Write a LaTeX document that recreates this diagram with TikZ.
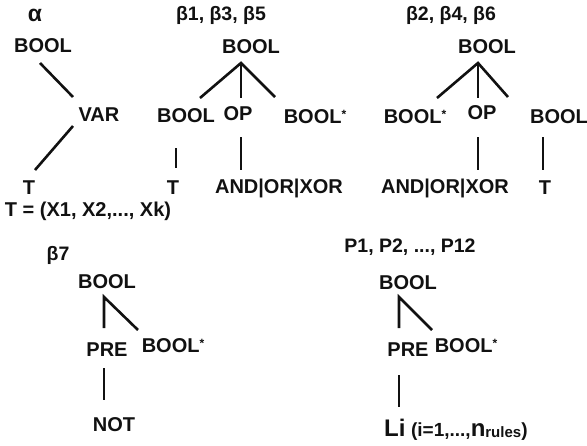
\documentclass[tikz,border=0pt]{standalone}
\usepackage{fontspec}
\setmainfont{Liberation Sans}
\usetikzlibrary{calc}
\definecolor{ink}{HTML}{111111}
\newcommand{\mainsz}{\fontsize{20}{22}\selectfont\bfseries}
\newcommand{\headsz}{\fontsize{19.5}{21}\selectfont\bfseries}
\newcommand{\rep}{\raisebox{5pt}{\fontsize{12}{12}\selectfont *}}

\begin{document}
\begin{tikzpicture}[
  x=1pt, y=-1pt,
  word/.style={inner sep=0pt, text=ink, font=\mainsz},
  head/.style={inner sep=0pt, text=ink, font=\headsz},
  edge/.style={draw=ink, line width=2.6pt}
]
\useasboundingbox (0,0) rectangle (587,445);

%% ---------- alpha ----------
\node[head, font=\fontsize{23}{25}\selectfont\bfseries] (alab) at (35,15) {α};
\node[word] (abool) at (43,46) {BOOL};
\node[word] (avar) at (99,115) {VAR};
\node[word] (aT) at (29,188) {T};
\node[word] (aset) at (88,211) {T = (X1, X2,..., Xk)};

\draw[edge] ($(abool)+(-3,17)$) -- ($(avar)+(-26,-18)$);
\draw[edge] ($(avar)+(-26,11)$) -- ($(aT)+(6,-18)$);

%% ---------- beta 1,3,5 ----------
\node[head] (blab) at (221,15) {β1, β3, β5};
\node[word] (broot) at (251,47) {BOOL};
\node[word] (bl) at (186,116) {BOOL};
\node[word] (bop) at (238,114) {OP};
\node[word] (br) at (315,117) {BOOL\rep};
\node[word] (bT) at (173,188) {T};
\node[word] (bops) at (279,188) {AND|OR|XOR};

\draw[edge] ($(bl)+(14,-18)$) -- ($(broot)+(-10,16)$) -- ($(br)+(-40,-20)$);
\draw[edge] ($(broot)+(-10,16)$) -- ($(bop)+(3,-16)$);
\draw[edge] ($(bl)+(-10,32)$) -- ($(bT)+(3,-20)$);
\draw[edge] ($(bop)+(3,23)$) -- ($(bops)+(-38,-18)$);

%% ---------- beta 2,4,6 ----------
\node[head] (clab) at (451,15) {β2, β4, β6};
\node[word] (croot) at (487,47) {BOOL};
\node[word] (cl) at (415,117) {BOOL\rep};
\node[word] (cop) at (482,113) {OP};
\node[word] (cr) at (559,117) {BOOL};
\node[word] (cops) at (445,188) {AND|OR|XOR};
\node[word] (cT) at (545,188) {T};

\draw[edge] ($(cl)+(22,-19)$) -- ($(croot)+(-9,16)$) -- ($(cr)+(-51,-20)$);
\draw[edge] ($(croot)+(-9,16)$) -- ($(cop)+(-4,-15)$);
\draw[edge] ($(cop)+(-4,24)$) -- ($(cops)+(33,-18)$);
\draw[edge] ($(cr)+(-16,20)$) -- ($(cT)+(-2,-18)$);

%% ---------- beta 7 ----------
\node[head] (dlab) at (58,255) {β7};
\node[word] (droot) at (107,282) {BOOL};
\node[word] (dpre) at (107,350) {PRE};
\node[word] (dbool) at (173,346) {BOOL\rep};
\node[word] (dnot) at (114,425) {NOT};

\draw[edge] ($(dpre)+(-3,-22)$) -- ($(droot)+(-3,15)$) -- ($(dbool)+(-35,-16)$);
\draw[edge] ($(dpre)+(-3,18)$) -- ($(dnot)+(-10,-25)$);

%% ---------- P rules ----------
\node[head] (elab) at (410,247) {P1, P2, ..., P12};
\node[word] (eroot) at (408,283) {BOOL};
\node[word] (epre) at (408,350) {PRE};
\node[word] (ebool) at (466,346) {BOOL\rep};
\node[word, anchor=west] (eli) at (384,430)
  {{\fontsize{24}{26}\selectfont Li} {\fontsize{19}{21}\selectfont (i=1,...,}{\fontsize{24}{26}\selectfont n}\raisebox{-1pt}{\fontsize{15}{17}\selectfont rules}{\fontsize{19}{21}\selectfont )}};

\draw[edge] ($(epre)+(-9,-22)$) -- ($(eroot)+(-9,14)$) -- ($(ebool)+(-34,-16)$);
\draw[edge] ($(epre)+(-9,25)$) -- ($(eli.west)+(15,-23)$);

\end{tikzpicture}
\end{document}
